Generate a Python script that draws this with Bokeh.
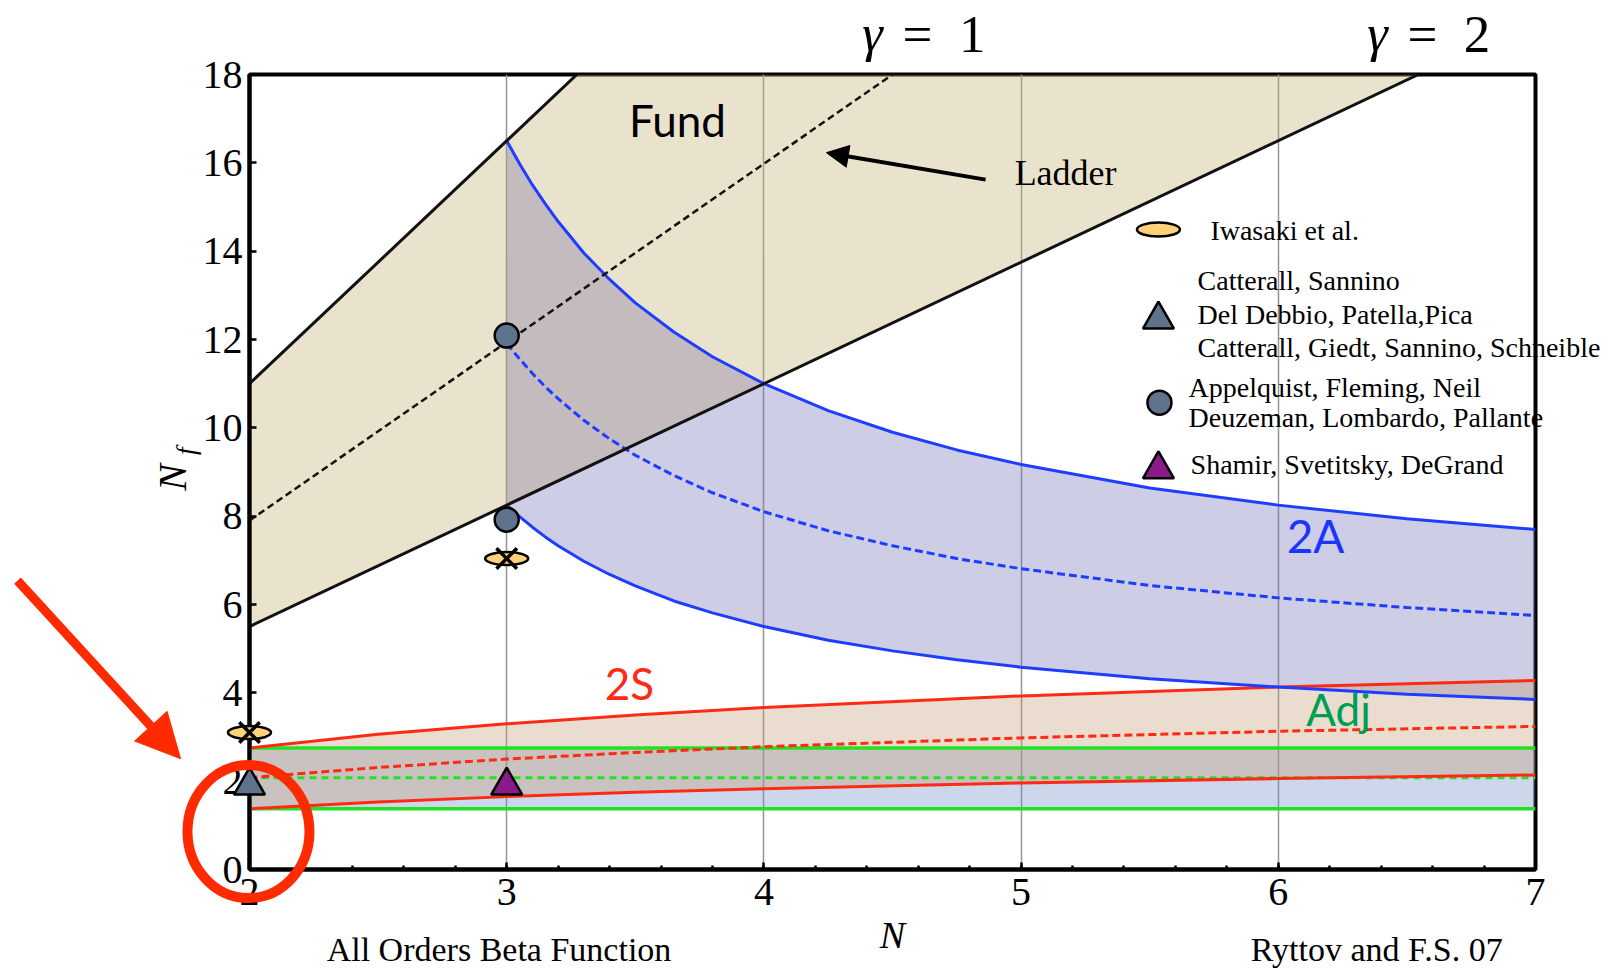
import numpy as np
from bokeh.plotting import figure
from bokeh.models import Range1d, FixedTicker, Label, Arrow, NormalHead
from bokeh.embed import file_html
from bokeh.resources import INLINE

# ---------------- data ----------------
x_ticks = [2, 3, 4, 5, 6, 7]
y_ticks = [0, 2, 4, 6, 8, 10, 12, 14, 16, 18]

# Fundamental representation
fund_N_upper = [2.0, 3.273]
fund_upper = [11.0, 18.0]
fund_N_lower = [2.0, 6.545]
fund_lower = [5.5, 18.0]
fund_N_ladder = [2.0, 4.5]
fund_ladder = [7.9, 18.0]

# Two-index antisymmetric (2A)
N_2A = [3.0, 3.05, 3.1, 3.15, 3.2, 3.3, 3.4, 3.5, 3.65, 3.8, 4.0, 4.25, 4.5, 4.75, 5.0, 5.5, 6.0, 6.5, 7.0]
A_upper = [16.5, 15.98, 15.5, 15.07, 14.67, 13.96, 13.36, 12.83, 12.17, 11.61, 11.0, 10.39, 9.9, 9.5,
           9.17, 8.64, 8.25, 7.94, 7.7]
A_lower = [8.25, 7.99, 7.75, 7.53, 7.33, 6.98, 6.68, 6.42, 6.08, 5.81, 5.5, 5.19, 4.95, 4.75,
           4.58, 4.32, 4.13, 3.97, 3.85]
A_ladder = [11.91, 11.56, 11.23, 10.93, 10.66, 10.17, 9.75, 9.38, 8.92, 8.53, 8.1, 7.67, 7.33, 7.04,
            6.81, 6.43, 6.15, 5.93, 5.75]

# Two-index symmetric (2S)
N_2S = [2.0, 2.5, 3.0, 3.5, 4.0, 5.0, 6.0, 7.0]
S_upper = [2.75, 3.06, 3.3, 3.5, 3.67, 3.93, 4.13, 4.28]
S_lower = [1.375, 1.53, 1.65, 1.75, 1.83, 1.96, 2.06, 2.14]
S_ladder = [2.08, 2.31, 2.5, 2.65, 2.78, 2.98, 3.13, 3.24]

# Adjoint
N_adj = [2.0, 7.0]
adj_upper = [2.75, 2.75]
adj_lower = [1.375, 1.375]
adj_ladder = [2.075, 2.075]

# Lattice results
iwasaki_N = [2, 3]
iwasaki_Nf = [3.1, 7.04]
css_N = [2]
css_Nf = [1.9]
afn_N = [3, 3]
afn_Nf = [12.09, 7.92]
ssd_N = [3]
ssd_Nf = [1.9]

legend_lines = [
    "Iwasaki et al.",
    "Catterall, Sannino",
    "Del Debbio, Patella,Pica",
    "Catterall, Giedt, Sannino, Schneible",
    "Appelquist, Fleming, Neil",
    "Deuzeman, Lombardo, Pallante",
    "Shamir, Svetitsky, DeGrand",
]

# ---------------- styling ----------------
BLACK = "#111111"
BLUE = "#1f3dff"
RED = "#ff2a14"
GREEN = "#22e022"
SLATE = "#5f738c"
PURPLE = "#8b1a8b"
YELLOW = "#ffd27a"
ARROW_RED = "#ff2a00"
SERIF = "Liberation Serif"
SANS = "Lato"

W, H = 1606, 970
FL, FR, FT, FB = 249, 1535, 74, 869      # frame edges in canvas pixels
X0, X1, Y0, Y1 = 2, 7, 0, 18

# ---------------- main figure ----------------
p = figure(width=W, height=H, x_range=Range1d(X0, X1), y_range=Range1d(Y0, Y1),
           output_backend="svg", toolbar_location=None,
           min_border_left=FL, min_border_right=W - FR, min_border_top=FT, min_border_bottom=H - FB)
p.background_fill_color = "white"
p.border_fill_color = "white"
p.outline_line_color = "black"
p.outline_line_width = 4
p.outline_line_alpha = 1.0

p.ygrid.visible = False
p.xgrid.ticker = FixedTicker(ticks=x_ticks[1:-1])
p.xgrid.grid_line_color = "#959595"
p.xgrid.grid_line_width = 1.5

xa = p.xaxis[0]
xa.ticker = FixedTicker(ticks=x_ticks, minor_ticks=[round(v, 1) for v in np.arange(2.2, 7.0, 0.2)])
ya = p.yaxis[0]
ya.ticker = FixedTicker(ticks=y_ticks, minor_ticks=[])
for ax in (xa, ya):
    ax.axis_line_width = 4
    ax.axis_line_color = "black"
    ax.major_tick_in = 7
    ax.major_tick_out = 0
    ax.minor_tick_in = 4
    ax.minor_tick_out = 0
    ax.major_tick_line_width = 2.5
    ax.minor_tick_line_width = 2.5
    ax.major_label_text_font = SERIF
    ax.major_label_text_font_size = "40px"
    ax.major_label_text_color = "black"
xa.major_label_standoff = 9
ya.major_label_standoff = 7

# fills
p.varea(x=N_2A, y1=A_lower, y2=A_upper, fill_color="#7070b8", fill_alpha=0.35)
p.varea(x=N_adj, y1=adj_lower, y2=adj_upper, fill_color="#708dc6", fill_alpha=0.35)
p.patch(x=fund_N_lower + fund_N_upper[::-1], y=fund_lower + fund_upper[::-1],
        fill_color="#c0ae72", fill_alpha=0.35, line_alpha=0)
p.varea(x=N_2S, y1=S_lower, y2=S_upper, fill_color="#c29c74", fill_alpha=0.35)
# slight mauve tint where the Fund and 2A windows overlap
N_ov = [n for n in N_2A if n <= 4.0]
p.varea(x=N_ov, y1=list(np.interp(N_ov, fund_N_lower, fund_lower)), y2=A_upper[:len(N_ov)],
        fill_color="#9678c8", fill_alpha=0.08)

# lines
p.line(N_adj, adj_upper, line_color=GREEN, line_width=3.5)
p.line(N_adj, adj_lower, line_color=GREEN, line_width=3.5)
p.line(N_adj, adj_ladder, line_color=GREEN, line_width=3, line_dash="7 5")

p.line(N_2S, S_upper, line_color=RED, line_width=3)
p.line(N_2S, S_lower, line_color=RED, line_width=3)
p.line(N_2S, S_ladder, line_color=RED, line_width=3, line_dash="8 4")

p.line(N_2A, A_upper, line_color=BLUE, line_width=3)
p.line(N_2A, A_lower, line_color=BLUE, line_width=3)
p.line(N_2A, A_ladder, line_color=BLUE, line_width=3, line_dash="8 4")

p.line(fund_N_upper, fund_upper, line_color=BLACK, line_width=3)
p.line(fund_N_lower, fund_lower, line_color=BLACK, line_width=3)
p.line(fund_N_ladder, fund_ladder, line_color=BLACK, line_width=2.5, line_dash="7 4")


def lab(fig, x, y, text, font, size, color, style="normal", align="center", baseline="middle", angle=0.0):
    fig.add_layout(Label(x=x, y=y, text=text, text_font=font, text_font_size=size, text_color=color,
                         text_font_style=style, text_align=align, text_baseline=baseline, angle=angle))


lab(p, 3.664, 16.96, "Fund", SANS, "44px", "black")
lab(p, 6.145, 7.56, "2A", SANS, "46px", "#1a35ff")
lab(p, 3.477, 4.23, "2S", SANS, "44px", "#ff2a14")
lab(p, 6.234, 3.645, "Adj", SANS, "44px", "#009e55")
lab(p, 5.173, 15.78, "Ladder", SERIF, "36px", "black")
p.add_layout(Arrow(x_start=4.862, y_start=15.62, x_end=4.243, y_end=16.23,
                   line_color="black", line_width=4,
                   end=NormalHead(size=22, fill_color="black", line_color="black")))

# ---------------- overlay figure (same pixel mapping, frame = whole canvas) ----------------
ppx = (FR - FL) / (X1 - X0)
ppy = (FB - FT) / (Y1 - Y0)
q = figure(width=W, height=H,
           x_range=Range1d(X0 - FL / ppx, X1 + (W - FR) / ppx),
           y_range=Range1d(Y0 - (H - FB) / ppy, Y1 + FT / ppy),
           output_backend="svg", toolbar_location=None,
           x_axis_location=None, y_axis_location=None,
           min_border=0, min_border_left=0, min_border_right=0, min_border_top=0, min_border_bottom=0)
q.background_fill_color = None
q.border_fill_color = None
q.outline_line_color = None
for g in q.grid:
    g.visible = False
q.styles = {"margin-top": "-%dpx" % H}

# lattice markers
q.ellipse(x=iwasaki_N, y=iwasaki_Nf, width=43, height=13, width_units="screen", height_units="screen",
          fill_color=YELLOW, line_color="black", line_width=2.5)
q.scatter(x=iwasaki_N, y=iwasaki_Nf, marker="x", size=29, line_color="black", line_width=3.5)
q.scatter(x=css_N, y=css_Nf, marker="triangle", size=31, fill_color=SLATE, line_color="black", line_width=2.5)
q.scatter(x=afn_N, y=afn_Nf, marker="circle", size=24, fill_color=SLATE, line_color="black", line_width=2.5)
q.scatter(x=ssd_N, y=ssd_Nf, marker="triangle", size=31, fill_color=PURPLE, line_color="black", line_width=2.5)

# legend markers
q.ellipse(x=[5.534], y=[14.49], width=43, height=14, width_units="screen", height_units="screen",
          fill_color=YELLOW, line_color="black", line_width=2.5)
q.scatter(x=[5.534], y=[12.45], marker="triangle", size=31, fill_color=SLATE, line_color="black", line_width=2.5)
q.scatter(x=[5.538], y=[10.57], marker="circle", size=24, fill_color=SLATE, line_color="black", line_width=2.5)
q.scatter(x=[5.534], y=[9.06], marker="triangle", size=31, fill_color=PURPLE, line_color="black", line_width=2.5)

legend_pos = [(5.736, 14.47), (5.686, 13.34), (5.686, 12.57), (5.686, 11.82),
              (5.651, 10.91), (5.651, 10.23), (5.659, 9.17)]
for txt, (lx, ly) in zip(legend_lines, legend_pos):
    lab(q, lx, ly, txt, SERIF, "28px", "black", align="left")

# gamma labels above the frame
lab(q, 4.422, 18.92, "γ", SERIF, "52px", "black", style="italic")
lab(q, 4.539, 18.92, "=\u00a0\u00a01", SERIF, "53px", "black", align="left")
lab(q, 6.386, 18.92, "γ", SERIF, "52px", "black", style="italic")
lab(q, 6.502, 18.92, "=\u00a0\u00a02", SERIF, "53px", "black", align="left")

# axis titles
lab(q, 4.5, -1.49, "N", SERIF, "38px", "black", style="italic")
lab(q, 1.70, 8.88, "N", SERIF, "40px", "black", style="italic", angle=np.pi / 2)
lab(q, 1.755, 9.47, "f", SERIF, "27px", "black", style="italic", angle=np.pi / 2)

# captions
lab(q, 2.30, -1.80, "All Orders Beta Function", SERIF, "34px", "black", align="left")
lab(q, 5.893, -1.80, "Ryttov and F.S. 07", SERIF, "34px", "black", align="left")

# red highlight: arrow and ellipse
q.add_layout(Arrow(x_start=1.098, y_start=6.54, x_end=1.732, y_end=2.51,
                   line_color=ARROW_RED, line_width=9,
                   end=NormalHead(size=44, fill_color=ARROW_RED, line_color=ARROW_RED, line_width=1)))
q.ellipse(x=[1.996], y=[0.86], width=122 / ppx, height=133 / ppy,
          fill_alpha=0, line_color=ARROW_RED, line_width=10)

# two independent roots (no frame alignment between them); the overlay sits on top of the chart
open("out.html", "w").write(file_html([p, q], INLINE))
